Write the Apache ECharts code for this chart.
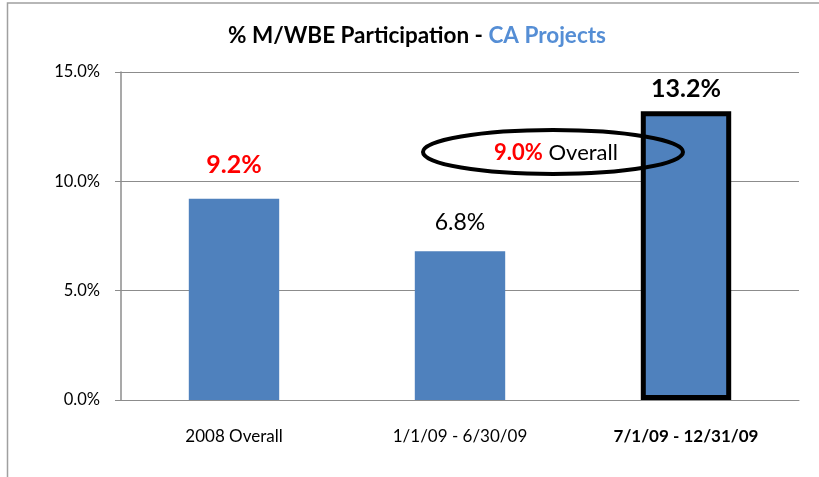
<!DOCTYPE html>
<html>
<head>
<meta charset="utf-8">
<script src="https://cdn.jsdelivr.net/npm/echarts@6/dist/echarts.min.js"></script>
<style>
html,body{margin:0;padding:0;background:#fff;}
#c{width:819px;height:477px;}
</style>
</head>
<body>
<div id="c"></div>
<script>
var categories = ['2008 Overall', '1/1/09 - 6/30/09', '7/1/09 - 12/31/09'];
var values = [9.2, 6.8, 13.2];
var yTicks = [0, 5, 10, 15];
var overallValue = 9.0;
var titleMain = '% M/WBE Participation - ';
var titleSub = 'CA Projects';

var FONT = 'Lato';
var chart = echarts.init(document.getElementById('c'), null, {renderer: 'canvas'});

var labelStyles = [
  {color: '#FF0000', fontWeight: 'bold', distance: 21, size: 25},
  {color: '#000000', fontWeight: 'normal', distance: 17, size: 23},
  {color: '#000000', fontWeight: 'bold', distance: 10, size: 25}
];

var barData = values.map(function (v, i) {
  var d = {
    value: v,
    label: {
      show: true,
      position: 'top',
      distance: labelStyles[i].distance,
      color: labelStyles[i].color,
      fontWeight: labelStyles[i].fontWeight,
      fontSize: labelStyles[i].size,
      fontFamily: FONT,
      formatter: function (p) { return p.value.toFixed(1) + '%'; }
    }
  };
  if (i === 2) {
    d.itemStyle = {borderColor: '#000', borderWidth: 5};
  }
  return d;
});

var catData = categories.map(function (c, i) {
  return i === 2 ? {value: c, textStyle: {fontWeight: 'bold'}} : c;
});

chart.setOption({
  backgroundColor: '#fff',
  animation: false,
  grid: {left: 121, right: 20, top: 72, bottom: 77, containLabel: false},
  xAxis: {
    type: 'category',
    data: catData,
    axisLine: {show: true, lineStyle: {color: '#8c8c8c', width: 1}},
    axisTick: {show: false},
    axisLabel: {color: '#000', fontSize: 17, fontFamily: FONT, margin: 28}
  },
  yAxis: {
    type: 'value',
    min: yTicks[0],
    max: yTicks[yTicks.length - 1],
    interval: yTicks[1] - yTicks[0],
    axisLine: {show: true, lineStyle: {color: '#8c8c8c', width: 1.5}},
    axisTick: {show: true, length: 6, lineStyle: {color: '#8c8c8c', width: 1}},
    splitLine: {show: true, lineStyle: {color: '#8c8c8c', width: 1}},
    axisLabel: {
      color: '#000', fontSize: 16.5, fontFamily: FONT, margin: 21,
      formatter: function (v) { return v.toFixed(1) + '%'; }
    }
  },
  series: [{
    type: 'bar',
    data: barData,
    barWidth: '40%',
    itemStyle: {color: '#4F81BD'}
  }],
  graphic: [
    {
      type: 'polyline',
      shape: {points: [[7.5, 900], [7.5, 3], [900, 3]]},
      style: {stroke: '#a0a0a0', lineWidth: 1.5, fill: null},
      silent: true
    },
    {
      type: 'text',
      x: 417, y: 36,
      style: {
        text: '{a|' + titleMain + '}{b|' + titleSub + '}',
        align: 'center',
        verticalAlign: 'middle',
        rich: {
          a: {fontSize: 22.5, fontWeight: 'bold', fontFamily: FONT, fill: '#000', color: '#000'},
          b: {fontSize: 22.5, fontWeight: 'bold', fontFamily: FONT, fill: '#558ED5', color: '#558ED5'}
        }
      }
    },
    {
      type: 'ellipse',
      shape: {cx: 553, cy: 152, rx: 130, ry: 22},
      style: {stroke: '#000', lineWidth: 4, fill: null},
      z: 100
    },
    {
      type: 'text',
      x: 556, y: 153,
      z: 101,
      style: {
        text: '{r|' + overallValue.toFixed(1) + '%}{k| Overall}',
        align: 'center',
        verticalAlign: 'middle',
        rich: {
          r: {fontSize: 22, fontWeight: 'bold', fontFamily: FONT, color: '#FF0000', fill: '#FF0000'},
          k: {fontSize: 22, fontWeight: 'normal', fontFamily: FONT, color: '#000', fill: '#000'}
        }
      }
    }
  ]
});
</script>
</body>
</html>
